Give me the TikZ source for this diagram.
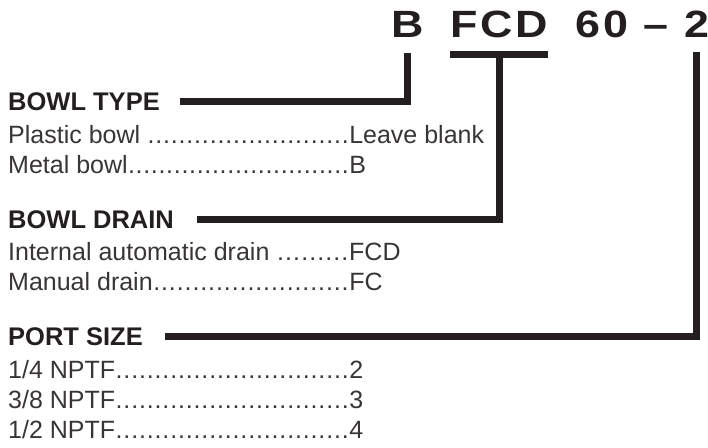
\documentclass[tikz,border=0pt]{standalone}
\usepackage{fontspec}
\setmainfont{Liberation Sans}
\usepackage{tikz}
\definecolor{ink}{HTML}{231F20}

\newcommand{\leaderdots}{\xleaders\hbox to 7.6pt{\hss.\hss}\hfill}
\newcommand{\entry}[2]{\makebox[341pt][l]{#1\leaderdots}#2}
\newcommand{\wide}[1]{\scalebox{1.18}[1]{#1}}

\tikzset{
  code/.style={anchor=base west,inner sep=0pt,text=ink,font=\fontsize{38}{40}\selectfont\bfseries},
  head/.style={anchor=base west,inner sep=0pt,text=ink,font=\fontsize{25.5}{28}\selectfont\bfseries},
  item/.style={anchor=base west,inner sep=0pt,text=ink!90,font=\fontsize{25}{28}\selectfont},
  lead/.style={draw=ink,line width=7pt}
}

\begin{document}
\begin{tikzpicture}[x=1pt,y=-1pt]
  \useasboundingbox (0,0) rectangle (708,447);

  % model code
  \node[code] (B)     at (391,37) {\wide{B}};
  \node[code] (FCD)   at (450,37) {\wide{F\kern2.5pt C\kern2.5pt D}};
  \node[code] (sixty) at (575,37) {\wide{6\kern2.5pt 0}};
  \node[code] (dash)  at (643,37) {\wide{--}};
  \node[code] (two)   at (684,37) {\wide{2}};

  % bowl type
  \node[head] (type)    at (8,110) {BOWL TYPE};
  \node[item] (plastic) at (8,143) {\entry{Plastic bowl }{Leave blank}};
  \node[item] (metal)   at (8,173) {\entry{Metal bowl}{B}};

  % bowl drain
  \node[head] (drain)    at (8,228) {BOWL DRAIN};
  \node[item] (internal) at (8,260) {\entry{Internal automatic drain }{FCD}};
  \node[item] (manual)   at (8,290) {\entry{Manual drain}{FC}};

  % port size
  \node[head] (port)    at (8,345) {PORT SIZE};
  \node[item] (quarter) at (8,378) {\entry{1/4 NPTF}{2}};
  \node[item] (three)   at (8,408) {\entry{3/8 NPTF}{3}};
  \node[item] (half)    at (8,438) {\entry{1/2 NPTF}{4}};

  % leaders
  \draw[lead] ([yshift=-16pt]B.south) |- ([xshift=20pt]type.east);
  \draw[lead] ([yshift=-17pt]FCD.south west) -- ([yshift=-17pt]FCD.south east);
  \draw[lead] ([yshift=-17pt]FCD.south) |- ([xshift=23pt]drain.east);
  \draw[lead] ([yshift=-15pt]two.south) |- ([xshift=22pt]port.east);
\end{tikzpicture}
\end{document}
